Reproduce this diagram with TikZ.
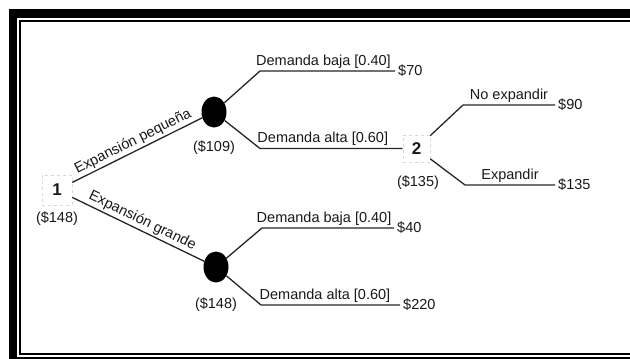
\documentclass[tikz,border=0pt]{standalone}
\usepackage{fontspec}
\setmainfont{Liberation Sans}
\usetikzlibrary{shapes.geometric}
\begin{document}
\begin{tikzpicture}[x=1pt,y=-1pt,
  every node/.style={font=\fontsize{14.5}{17}\selectfont, text=black!90},
  branch/.style={draw=black!85, line width=1.3pt},
  chance/.style={ellipse, fill=black, minimum width=25pt, minimum height=31pt, inner sep=0pt},
  decision/.style={rectangle, draw=black!15, dashed, line width=0.6pt, minimum size=27pt, inner sep=0pt, font=\fontsize{17}{18}\selectfont\bfseries},
  pay/.style={anchor=west, inner sep=3pt},
  lab/.style={above, inner sep=2pt}]

\useasboundingbox (0,0) rectangle (630,359);
\begin{scope}
\clip (0,0) rectangle (630,359);
\fill[white] (0,0) rectangle (630,359);
\fill[black] (9,9) rectangle (660,380);
\fill[white] (17.3,18) rectangle (660,356.8);
\draw[line width=2.2pt] (19.8,21) rectangle (670,353.8);
\end{scope}

% decision / chance nodes
\node[decision, minimum size=30pt] (n1) at (57,190) {1};
\node[chance] (c1) at (214,112) {};
\node[chance] (c2) at (216,267) {};
\node[decision] (d2) at (416.5,148.5) {2};

% bends
\coordinate (b1) at (260,71);
\coordinate (b2) at (260,148.5);
\coordinate (b3) at (463,105);
\coordinate (b4) at (465,185);
\coordinate (b5) at (262,228);
\coordinate (b6) at (261,305);

% payoffs
\node[pay] (p70) at (395,71) {\$70};
\node[pay] (p90) at (555,105) {\$90};
\node[pay] (p135) at (555,185) {\$135};
\node[pay] (p40) at (394,228) {\$40};
\node[pay] (p220) at (400,305) {\$220};

% expected values
\node (v1) at (57,219) {(\$148)};
\node (v2) at (214,148) {(\$109)};
\node (v3) at (216,305) {(\$148)};
\node (v4) at (418,183) {(\$135)};

% branches
\draw[branch] (n1) -- node[sloped, lab]{Expansión pequeña} (c1);
\draw[branch] (n1) -- node[sloped, lab]{Expansión grande} (c2);
\draw[branch] (c1) -- (b1) -- node[lab, pos=0.47]{Demanda baja [0.40]} (p70.west);
\draw[branch] (c1) -- (b2) -- node[lab, pos=0.44]{Demanda alta [0.60]} (d2);
\draw[branch] (d2) -- (b3) -- node[lab]{No expandir} (p90.west);
\draw[branch] (d2) -- (b4) -- node[lab]{Expandir} (p135.west);
\draw[branch] (c2) -- (b5) -- node[lab, pos=0.47]{Demanda baja [0.40]} (p40.west);
\draw[branch] (c2) -- (b6) -- node[lab, pos=0.46]{Demanda alta [0.60]} (p220.west);
\end{tikzpicture}
\end{document}
